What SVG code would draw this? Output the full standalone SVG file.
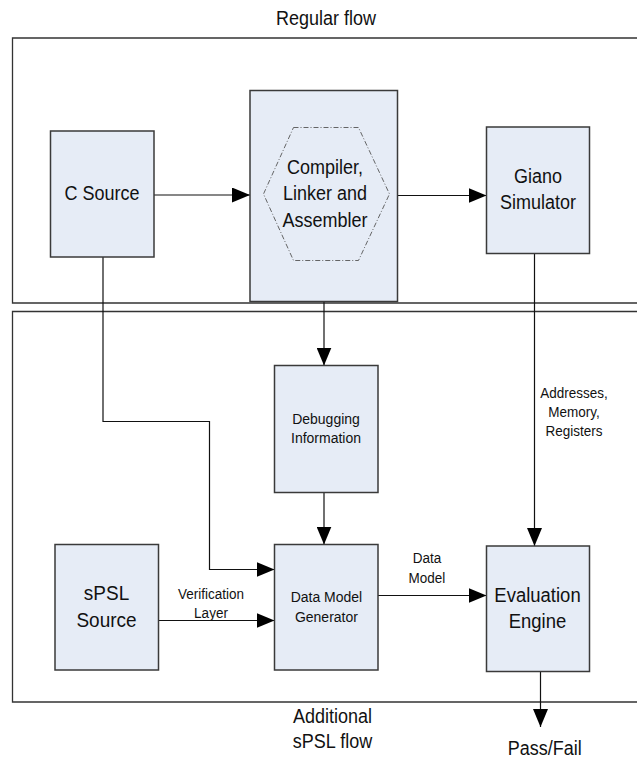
<svg xmlns="http://www.w3.org/2000/svg" width="637" height="759" viewBox="0 0 637 759">
  <style>
    .frame { fill: none; stroke: #333; stroke-width: 1.3; }
    .box { fill: #e6ecf6; stroke: #3a3a3a; stroke-width: 1.5; }
    .hex { fill: none; stroke: #555; stroke-width: 0.9; stroke-dasharray: 5 2 1 2; }
    .wire { fill: none; stroke: #111; stroke-width: 1.2; }
    text { font-family: "Liberation Sans", Arial, sans-serif; fill: #111; text-anchor: middle; }
    .big { font-size: 18px; }
    .mid { font-size: 14px; }
    .sm { font-size: 13.5px; }
  </style>
  <defs>
    <marker id="arrow" markerUnits="userSpaceOnUse" markerWidth="19" markerHeight="15" refX="18" refY="7.5" orient="auto">
      <path d="M0,0 L18,7.5 L0,15 Z" fill="#000"/>
    </marker>
  </defs>

  <rect width="637" height="759" fill="#fff"/>

  <!-- flow regions -->
  <g id="regular-flow">
    <path class="frame" d="M640,38 H12.5 V303 H640"/>
    <text class="big" transform="translate(326,25) scale(1,1.1)">Regular flow</text>
  </g>
  <g id="spsl-flow">
    <path class="frame" d="M640,311.5 H12.5 V702 H640"/>
    <text class="big" transform="translate(332.5,723.3) scale(1,1.1)"><tspan x="0">Additional</tspan><tspan x="0" dy="22.7">sPSL flow</tspan></text>
  </g>

  <!-- connectors -->
  <g id="connectors">
    <path class="wire" d="M154,195 H250" marker-end="url(#arrow)"/>
    <path class="wire" d="M397.5,195.5 H486.5" marker-end="url(#arrow)"/>
    <path class="wire" d="M103,257 V421.5 H209.5 V569.5 H274.5" marker-end="url(#arrow)"/>
    <path class="wire" d="M324,301.5 V365.5" marker-end="url(#arrow)"/>
    <path class="wire" d="M324,492.5 V544.5" marker-end="url(#arrow)"/>
    <path class="wire" d="M534.5,253.5 V546" marker-end="url(#arrow)"/>
    <path class="wire" d="M378,595.5 H486.5" marker-end="url(#arrow)"/>
    <path class="wire" d="M158.5,620.5 H274.5" marker-end="url(#arrow)"/>
    <path class="wire" d="M540.5,672 V727" marker-end="url(#arrow)"/>
    <text class="sm" transform="translate(574,397.7) scale(1,1.1)"><tspan x="0">Addresses,</tspan><tspan x="0" dy="17.2">Memory,</tspan><tspan x="0" dy="17.2">Registers</tspan></text>
    <text class="sm" transform="translate(427,563.3) scale(1,1.1)"><tspan x="0">Data</tspan><tspan x="0" dy="18.2">Model</tspan></text>
    <text class="sm" transform="translate(211,599) scale(1,1.1)"><tspan x="0">Verification</tspan><tspan x="0" dy="17.6">Layer</tspan></text>
    <text class="big" transform="translate(544.7,755) scale(1,1.1)">Pass/Fail</text>
  </g>

  <!-- nodes -->
  <g id="c-source">
    <rect class="box" x="50.5" y="131" width="103.5" height="126"/>
    <text class="big" transform="translate(102,200) scale(1,1.1)">C Source</text>
  </g>
  <g id="toolchain">
    <rect class="box" x="250" y="90.5" width="147.5" height="211"/>
    <polygon class="hex" points="293.5,127.5 358.5,127.5 389.5,194 358.5,260.5 293.5,260.5 263.5,194"/>
    <text class="big" transform="translate(325,174) scale(1,1.1)"><tspan x="0">Compiler,</tspan><tspan x="0" dy="23.9">Linker and</tspan><tspan x="0" dy="23.9">Assembler</tspan></text>
  </g>
  <g id="giano">
    <rect class="box" x="486.5" y="127" width="103" height="126.5"/>
    <text class="big" transform="translate(538,182.7) scale(1,1.1)"><tspan x="0">Giano</tspan><tspan x="0" dy="23.6">Simulator</tspan></text>
  </g>
  <g id="debug-info">
    <rect class="box" x="274.5" y="365.5" width="103.5" height="127"/>
    <text class="mid" transform="translate(326,424) scale(1,1.1)"><tspan x="0">Debugging</tspan><tspan x="0" dy="17.6">Information</tspan></text>
  </g>
  <g id="data-model-generator">
    <rect class="box" x="274.5" y="544.5" width="103.5" height="125.5"/>
    <text class="mid" transform="translate(326.4,601.7) scale(1,1.1)"><tspan x="0">Data Model</tspan><tspan x="0" dy="18.2">Generator</tspan></text>
  </g>
  <g id="spsl-source">
    <rect class="box" x="55" y="544.5" width="103.5" height="125.5"/>
    <text class="big" style="font-size:19px" transform="translate(106.5,600) scale(1,1.1)"><tspan x="0">sPSL</tspan><tspan x="0" dy="24.8">Source</tspan></text>
  </g>
  <g id="evaluation-engine">
    <rect class="box" x="486.5" y="546" width="103" height="125.5"/>
    <text class="big" style="font-size:18.5px" transform="translate(537.5,601.7) scale(1,1.1)"><tspan x="0">Evaluation</tspan><tspan x="0" dy="24.2">Engine</tspan></text>
  </g>
</svg>
